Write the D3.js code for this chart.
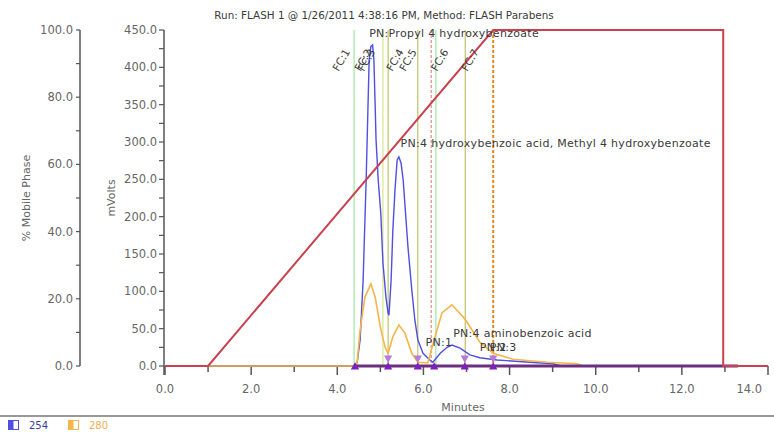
<!DOCTYPE html>
<html>
<head>
<meta charset="utf-8">
<script src="https://cdn.jsdelivr.net/npm/d3@7"></script>
<style>
  html, body { margin: 0; padding: 0; background: #fff; }
  svg { display: block; }
  text { font-family: "DejaVu Sans", Verdana, sans-serif; }
</style>
</head>
<body>
<svg id="chart" width="774" height="432"></svg>
<script>
// ---------------- DATA ----------------
const titleText = "Run: FLASH 1 @ 1/26/2011 4:38:16 PM, Method: FLASH Parabens";

// 254 nm trace (minutes, mVolts)
const trace254Time = [0, 4.40, 4.46, 4.53, 4.60, 4.67, 4.74, 4.78, 4.82, 4.85, 4.88, 4.90, 4.95, 5.01, 5.06, 5.13, 5.18, 5.20, 5.25, 5.29, 5.34, 5.39, 5.43, 5.48, 5.53, 5.64, 5.73, 5.80, 5.87, 5.99, 6.15, 6.22, 6.39, 6.55, 6.66, 6.85, 7.08, 7.31, 7.71, 8.47, 9.01, 9.20, 13.30];
const trace254Value = [0, 0, 4, 35, 115, 249, 410, 428, 430, 410, 347, 303, 249, 205, 138, 92, 71, 68, 115, 182, 236, 276, 280, 272, 249, 160, 102, 62, 35, 17, 8, 5, 17, 25, 28, 24, 15, 11, 8, 5, 3, 0, 0];

// 280 nm trace (minutes, mVolts)
const trace280Time = [0, 4.40, 4.46, 4.53, 4.64, 4.78, 4.88, 5.00, 5.11, 5.18, 5.29, 5.43, 5.57, 5.73, 5.87, 6.10, 6.27, 6.43, 6.66, 6.92, 7.01, 7.31, 7.62, 8.08, 8.87, 9.57, 9.70, 13.30];
const trace280Value = [0, 0, 5, 48, 92, 110, 92, 52, 25, 17, 39, 55, 44, 17, 5, 4, 39, 71, 82, 66, 59, 32, 17, 9, 5, 3, 0, 0];

// % mobile phase gradient (minutes, %)
const gradientTime = [0, 1.0, 7.62, 12.96, 12.96, 14.0];
const gradientValue = [0, 0, 100, 100, 0, 0];

// baseline of collected region (minutes)
const baselineSpan = [4.41, 13.30];

// fraction-collection vertical lines (minutes) and their kinds
const fcLineTime = [4.39, 5.06, 5.18, 5.87, 6.18, 6.29, 6.97, 7.62];
const fcLineKind = ["green", "lime", "olive", "olive", "red", "green", "olive", "orange"];

// fraction labels (text, minutes)
const fcLabelText = ["FC:1", "FC:2", "FC:3", "FC:4", "FC:5", "FC:6", "FC:7"];
const fcLabelTime = [4.09, 4.60, 4.68, 5.34, 5.64, 6.38, 7.08];

// peak name labels (text, minutes, mVolts)
const pnText = ["PN:Propyl 4 hydroxybenzoate", "PN:4 hydroxybenzoic acid, Methyl 4 hydroxybenzoate", "PN:4 aminobenzoic acid", "PN:1", "PN:2", "PN:3"];
const pnTime = [4.74, 5.47, 6.69, 6.05, 7.31, 7.54];
const pnLevel = [440, 293, 39, 27, 20, 20];

// fraction markers (minutes)
const markerUpTime = [4.41, 5.18, 5.87, 6.25, 6.96, 7.62];
const markerDownTime = [5.18, 5.87, 6.96, 7.62];

// axis ticks
const xTicksMajor = [0, 2, 4, 6, 8, 10, 12, 14];
const xTicksMinor = [1, 3, 5, 7, 9, 11, 13];
const mvTicksMajor = [0, 50, 100, 150, 200, 250, 300, 350, 400, 450];
const mvTicksMinor = [25, 75, 125, 175, 225, 275, 325, 375, 425];
const pctTicksMajor = [0, 20, 40, 60, 80, 100];
const pctTicksMinor = [10, 30, 50, 70, 90];

const legendLabels = ["254", "280"];

// ---------------- DRAW ----------------
const svg = d3.select("#chart");
const x = d3.scaleLinear().domain([0, 14]).range([165, 768]);
const y = d3.scaleLinear().domain([0, 450]).range([366, 30]);
const yp = d3.scaleLinear().domain([0, 100]).range([366, 30]);

const colors = {
  c254: "#4f4fe0", c280: "#f5b548", grad: "#c9424f",
  green: "#8fe08f", lime: "#cfe07a", olive: "#b3b54a", red: "#e86a6a", orange: "#e88a1a",
  axis: "#555", tick: "#666", text: "#3a3a3a"
};

// title
svg.append("text").attr("x", 384).attr("y", 19).attr("text-anchor", "middle")
  .attr("font-size", 10.4).attr("fill", colors.text).text(titleText);

// vertical FC lines
svg.append("g").selectAll("line").data(fcLineTime).join("line")
  .attr("x1", d => x(d)).attr("x2", d => x(d))
  .attr("y1", y(450)).attr("y2", y(0))
  .attr("stroke", (d, i) => colors[fcLineKind[i]])
  .attr("stroke-width", (d, i) => fcLineKind[i] === "orange" ? 2 : 1)
  .attr("stroke-dasharray", (d, i) => (fcLineKind[i] === "red" || fcLineKind[i] === "orange") ? "3,2" : null);

// X axis
const gx = svg.append("g");
gx.append("line").attr("x1", x(0)).attr("x2", x(14)).attr("y1", 366).attr("y2", 366)
  .attr("stroke", colors.axis).attr("stroke-width", 1.5);
gx.selectAll(".maj").data(xTicksMajor).join("line")
  .attr("x1", d => x(d)).attr("x2", d => x(d)).attr("y1", 366).attr("y2", 375)
  .attr("stroke", colors.axis).attr("stroke-width", 1.5);
gx.selectAll(".min").data(xTicksMinor).join("line")
  .attr("x1", d => x(d)).attr("x2", d => x(d)).attr("y1", 366).attr("y2", 372)
  .attr("stroke", colors.axis).attr("stroke-width", 1.5);
gx.selectAll("text").data(xTicksMajor).join("text")
  .attr("x", d => d === 14 ? x(d) - 6 : x(d)).attr("y", 393)
  .attr("text-anchor", d => d === 14 ? "end" : "middle")
  .attr("font-size", 11.5).attr("fill", colors.tick).text(d => d3.format(".1f")(d));
svg.append("text").attr("x", 463).attr("y", 411).attr("text-anchor", "middle")
  .attr("font-size", 11).attr("fill", colors.tick).text("Minutes");

// mV axis
const gy = svg.append("g");
gy.append("line").attr("x1", 164).attr("x2", 164).attr("y1", y(450)).attr("y2", 375)
  .attr("stroke", colors.axis).attr("stroke-width", 1.5);
gy.selectAll(".maj").data(mvTicksMajor.concat(mvTicksMinor)).join("line")
  .attr("x1", 159).attr("x2", 164).attr("y1", d => y(d)).attr("y2", d => y(d))
  .attr("stroke", colors.axis).attr("stroke-width", 1.2);
gy.selectAll("text").data(mvTicksMajor).join("text")
  .attr("x", 157).attr("y", d => y(d) + 4).attr("text-anchor", "end")
  .attr("font-size", 11.5).attr("fill", colors.tick).text(d => d3.format(".1f")(d));
svg.append("text").attr("transform", "translate(115,198) rotate(-90)")
  .attr("text-anchor", "middle").attr("font-size", 11).attr("fill", colors.tick).text("mVolts");

// % axis
const gp = svg.append("g");
gp.append("line").attr("x1", 80).attr("x2", 80).attr("y1", yp(100)).attr("y2", yp(0))
  .attr("stroke", colors.axis).attr("stroke-width", 1.5);
gp.selectAll("line.t").data(pctTicksMajor.concat(pctTicksMinor)).join("line")
  .attr("x1", 76).attr("x2", 80).attr("y1", d => yp(d)).attr("y2", d => yp(d))
  .attr("stroke", colors.axis).attr("stroke-width", 1.2);
gp.selectAll("text").data(pctTicksMajor).join("text")
  .attr("x", 73).attr("y", d => yp(d) + 4).attr("text-anchor", "end")
  .attr("font-size", 11.5).attr("fill", colors.tick).text(d => d3.format(".1f")(d));
svg.append("text").attr("transform", "translate(30,198) rotate(-90)")
  .attr("text-anchor", "middle").attr("font-size", 11).attr("fill", colors.tick).text("% Mobile Phase");

// traces
const line = d3.line().x(d => x(d[0])).y(d => y(d[1]));
const lineP = d3.line().x(d => x(d[0])).y(d => yp(d[1]));
svg.append("path").datum(d3.zip(trace254Time, trace254Value)).attr("d", line)
  .attr("fill", "none").attr("stroke", colors.c254).attr("stroke-width", 1.4);
svg.append("path").datum(d3.zip(trace280Time, trace280Value)).attr("d", line)
  .attr("fill", "none").attr("stroke", colors.c280).attr("stroke-width", 1.6);

// baseline
svg.append("line").attr("x1", x(baselineSpan[0])).attr("x2", x(baselineSpan[1]))
  .attr("y1", y(0)).attr("y2", y(0)).attr("stroke", "#6b2f7f").attr("stroke-width", 3);

// gradient
svg.append("path").datum(d3.zip(gradientTime, gradientValue)).attr("d", lineP)
  .attr("fill", "none").attr("stroke", colors.grad).attr("stroke-width", 2);

// markers
const tri = d3.symbol().type(d3.symbolTriangle).size(30);
svg.append("g").selectAll("path").data(markerDownTime).join("path")
  .attr("d", tri).attr("transform", d => `translate(${x(d)},${y(0) - 8}) rotate(180)`)
  .attr("fill", "#b77ad6");
svg.append("g").selectAll("path").data(markerUpTime).join("path")
  .attr("d", tri).attr("transform", d => `translate(${x(d)},${y(0) + 1})`)
  .attr("fill", "#7d1fbf");

// FC labels
svg.append("g").selectAll("text").data(fcLabelText).join("text")
  .attr("transform", (d, i) => `translate(${x(fcLabelTime[i])},${60}) rotate(-60)`)
  .attr("text-anchor", "middle").attr("dy", "0.35em")
  .attr("font-size", 10.5).attr("fill", colors.text).text(d => d);

// PN labels
svg.append("g").selectAll("text").data(pnText).join("text")
  .attr("x", (d, i) => x(pnTime[i])).attr("y", (d, i) => y(pnLevel[i]))
  .attr("font-size", 11).attr("letter-spacing", 0.3)
  .attr("fill", colors.text).text(d => d);

// separator & legend
svg.append("line").attr("x1", 0).attr("x2", 774).attr("y1", 416).attr("y2", 416)
  .attr("stroke", "#777").attr("stroke-width", 1.5);
const legendColors = [colors.c254, colors.c280];
const legendX = [8, 68];
const lg = svg.append("g").selectAll("g").data(legendLabels).join("g")
  .attr("transform", (d, i) => `translate(${legendX[i]},420)`);
lg.append("rect").attr("x", 0.5).attr("y", 0.5).attr("width", 10).attr("height", 9)
  .attr("fill", "#fff").attr("stroke", (d, i) => legendColors[i]);
lg.append("rect").attr("x", 0.5).attr("y", 0.5).attr("width", 5).attr("height", 9)
  .attr("fill", (d, i) => legendColors[i]);
lg.append("text").attr("x", 21).attr("y", 9).attr("font-size", 10)
  .attr("fill", (d, i) => i === 0 ? "#3a3aa0" : "#f0b050").text(d => d);
</script>
</body>
</html>
